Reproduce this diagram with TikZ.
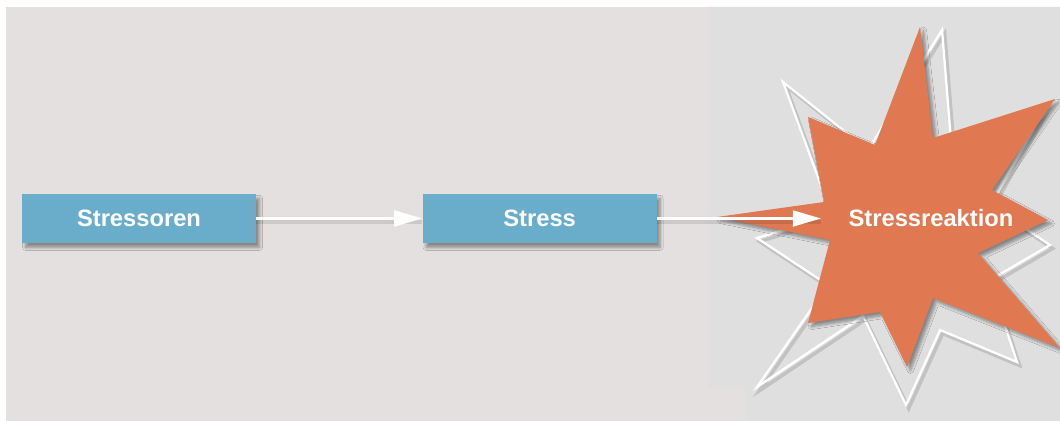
\documentclass[tikz,border=0pt]{standalone}
\usepackage{fontspec}
\setsansfont{Liberation Sans}
\usepackage{tikz}
\usetikzlibrary{arrows.meta,positioning,shadows.blur}
\definecolor{bgwarm}{HTML}{E4E0DF}
\definecolor{bgcool}{HTML}{DFDFDF}
\definecolor{boxblue}{HTML}{6AADCB}
\definecolor{burst}{HTML}{E07852}

\begin{document}
\begin{tikzpicture}[x=0.02cm, y=-0.02cm,
              box/.style={fill=boxblue, minimum width=4.68cm, minimum height=0.98cm, inner sep=0pt,
                          text=white, font=\sffamily\bfseries\fontsize{13.5}{16}\selectfont,
                          blur shadow={shadow xshift=2pt, shadow yshift=-2.5pt, shadow blur steps=6}},
              lbl/.style={text=white, font=\sffamily\bfseries\fontsize{13.5}{16}\selectfont},
              arr/.style={draw=white, line width=1.4pt, -{Triangle[length=16pt,width=9pt]},
                          preaction={-, draw=black, draw opacity=.1, line width=2pt, transform canvas={yshift=-2pt}}},
              starline/.style={draw=white, line width=1.3pt,
                          preaction={draw=black, draw opacity=.13, line width=2pt, transform canvas={xshift=1.5pt, yshift=-2pt}}},
              starfill/.style={fill=burst, blur shadow={shadow xshift=2pt, shadow yshift=-2pt, shadow blur steps=6}},
             ]
\useasboundingbox (0,0) rectangle (1060,421);
\fill[bgwarm] (6,7) rectangle (1060,421);
\fill[bgcool] (708,7) -- (1060,7) -- (1060,421) -- (745,421) -- (745,387) -- (708,387) -- cycle;

\draw[starline] (942,30) -- (955,190) -- (1040,117) -- (990,205) -- (1050,245) -- (990,280)
  -- (1017,362) -- (940,330) -- (906,405) -- (863,316) -- (757,387) -- (828,285)
  -- (757,238) -- (832,215) -- (783,82) -- (868,150) -- cycle;
\path[starfill] (920,27) -- (933,138) -- (1055,99) -- (992,190) -- (1048,220) -- (978,253)
  -- (1060,348) -- (933,298) -- (907,367) -- (880,312) -- (808,323) -- (830,240)
  -- (717,217) -- (824,202) -- (808,117) -- (875,145) -- cycle;

\node[box] (src) at (139,218.5) {Stressoren};
\node[box, right=3.32cm of src] (str) {Stress};
\node[lbl] (reak) at (931,218) {Stressreaktion};
\coordinate (hit) at (821,218.5);

\draw[arr] (src) -- (str);
\draw[arr] (str) -- (hit);
\end{tikzpicture}
\end{document}
